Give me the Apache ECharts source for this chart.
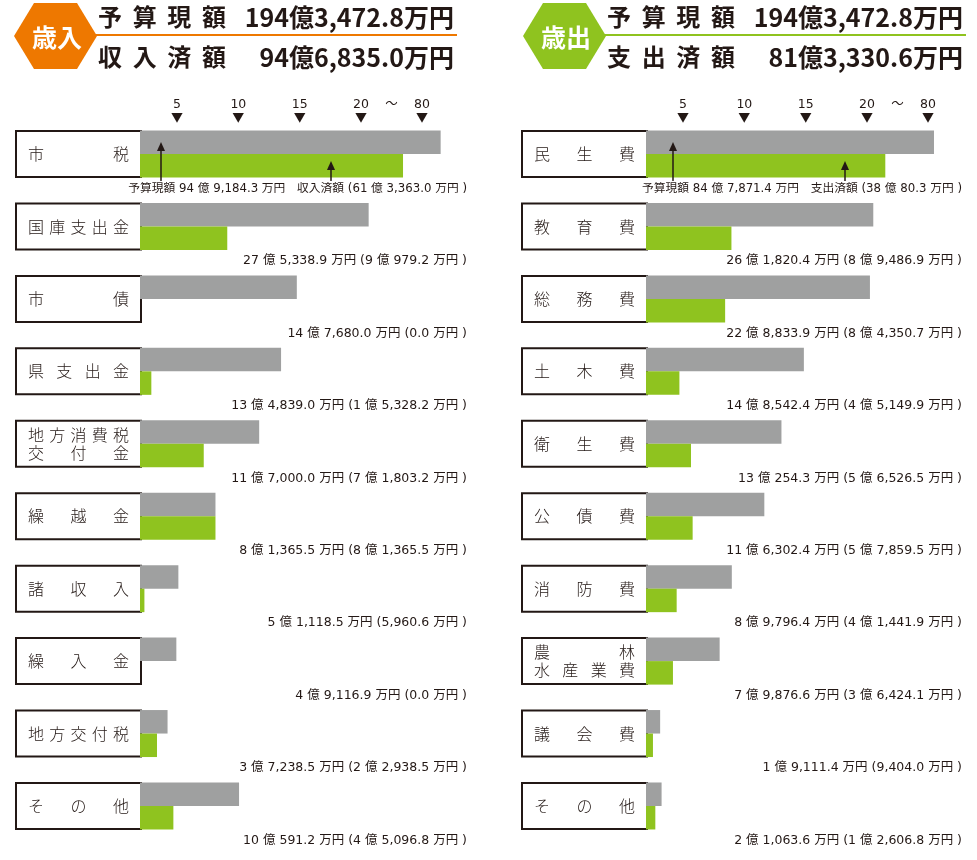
<!DOCTYPE html>
<html>
<head>
<meta charset="utf-8">
<script src="https://cdn.jsdelivr.net/npm/echarts@6/dist/echarts.min.js"></script>
<style>
html,body{margin:0;padding:0;background:#ffffff;}
#chart{width:977px;height:860px;}
</style>
</head>
<body>
<div id="chart"></div>
<script>
// ===================== DATA (values in 万円) =====================
const revenueCategories = ['市税', '国庫支出金', '市債', '県支出金', '地方消費税\n交付金', '繰越金', '諸収入', '繰入金', '地方交付税', 'その他'];
const revenueBudget = [949184.3, 275338.9, 147680.0, 134839.0, 117000.0, 81365.5, 51118.5, 49116.9, 37238.5, 100591.2];
const revenueActual = [613363.0, 90979.2, 0.0, 15328.2, 71803.2, 81365.5, 5960.6, 0.0, 22938.5, 45096.8];

const expenditureCategories = ['民生費', '教育費', '総務費', '土木費', '衛生費', '公債費', '消防費', '農林\n水産業費', '議会費', 'その他'];
const expenditureBudget = [847871.4, 261820.4, 228833.9, 148542.4, 130254.3, 116302.4, 89796.4, 79876.6, 19111.4, 21063.6];
const expenditureActual = [380080.3, 89486.9, 84350.7, 45149.9, 56526.5, 57859.5, 41441.9, 36424.1, 9404.0, 12606.8];

// axis ticks (億円) and break mark between 20 and 80
const tickValues = [5, 10, 15, 20, 80];
const tickLabels = ['5', '10', '15', '20', '80'];
const breakFrom = 20, breakTo = 80, breakMark = '～';

// ===================== SCALE (broken axis, 億円 -> display units) =====================
const SCALE_DOMAIN = [0, 5, 20, 80, 100];
const SCALE_RANGE = [0, 37, 221, 282, 307];
function toDisplay(oku) {
  for (let i = 1; i < SCALE_DOMAIN.length; i++) {
    if (oku <= SCALE_DOMAIN[i] || i === SCALE_DOMAIN.length - 1) {
      const d0 = SCALE_DOMAIN[i - 1], d1 = SCALE_DOMAIN[i];
      const r0 = SCALE_RANGE[i - 1], r1 = SCALE_RANGE[i];
      return r0 + (oku - d0) * (r1 - r0) / (d1 - d0);
    }
  }
  return 0;
}
const manToOku = v => v / 10000;

// ===================== STYLE =====================
const INK = '#231815';
const GRAY = '#9fa0a0';
const GREEN = '#8fc31f';
const ORANGE = '#ee7800';
const FONT = '"Noto Sans CJK JP", "Noto Sans", sans-serif';
const NUM_FONT = '"DejaVu Sans", "Noto Sans CJK JP", sans-serif';

// ===================== FORMAT =====================
function fmtMan(man, sep) {
  const oku = Math.floor((man + 1e-6) / 10000);
  const rest = Math.round((man - oku * 10000) * 10) / 10;
  const parts = rest.toFixed(1).split('.');
  const restStr = parts[0].replace(/\B(?=(\d{3})+(?!\d))/g, ',') + '.' + parts[1];
  return oku > 0 ? (oku + sep + '億' + sep + restStr + sep + '万円') : (restStr + sep + '万円');
}
const sum = arr => Math.round(arr.reduce((a, b) => a + b, 0) * 10) / 10;

// ===================== BOX LABEL (justified) =====================
const BOX_W = 101, BOX_FS = 16;
function buildBoxRich() {
  const rich = {};
  [1, 2].forEach(k => {
    const lh = k === 1 ? 36 : 18;
    const base = { fontSize: BOX_FS, lineHeight: lh, color: INK, fontFamily: FONT, fontWeight: 300 };
    rich['l' + k] = Object.assign({}, base, { align: 'left' });
    rich['r' + k] = Object.assign({}, base, { align: 'right' });
    for (let n = 3; n <= 6; n++) {
      rich['c' + k + '_' + n] = Object.assign({}, base, { align: 'center', width: (BOX_W - BOX_FS) / (n - 1) });
    }
  });
  return rich;
}
function justifyLine(text, k) {
  const ch = Array.from(text), n = ch.length;
  return ch.map((c, i) => i === 0 ? '{l' + k + '|' + c + '}' : (i === n - 1 ? '{r' + k + '|' + c + '}' : '{c' + k + '_' + n + '|' + c + '}')).join('');
}
function boxLabel(name) {
  const lines = name.split('\n');
  return lines.map(l => justifyLine(l, lines.length)).join('\n');
}

// ===================== LAYOUT =====================
const GRID_TOP = 117.8, GRID_H = 724.4, GRID_W = 307;
const panels = [
  { cats: revenueCategories, budget: revenueBudget, actual: revenueActual, left: 140, labelOffset: 20, actualName: '収入済額',
    badge: '歳入', color: ORANGE, hexX: 14, arrows: [21, 191] },
  { cats: expenditureCategories, budget: expenditureBudget, actual: expenditureActual, left: 646, labelOffset: 9, actualName: '支出済額',
    badge: '歳出', color: GREEN, hexX: 523, arrows: [27, 199] }
];

const tickDisplay = tickValues.map(toDisplay);
const breakDisplay = (toDisplay(breakFrom) + toDisplay(breakTo)) / 2;

const grids = [], xAxes = [], yAxes = [], series = [];
panels.forEach((p, idx) => {
  grids.push({ left: p.left, top: GRID_TOP, width: GRID_W, height: GRID_H, containLabel: false });
  xAxes.push({
    gridIndex: idx, type: 'value', position: 'top', min: 0, max: SCALE_RANGE[SCALE_RANGE.length - 1],
    axisLine: { show: false }, axisTick: { show: false }, splitLine: { show: false },
    axisLabel: {
      customValues: tickDisplay.concat([breakDisplay]),
      margin: -6,
      formatter: function (v) {
        if (Math.abs(v - breakDisplay) < 0.01) return '{n|' + breakMark + '}\n{t|\u3000}';
        const i = tickDisplay.findIndex(d => Math.abs(d - v) < 0.01);
        return '{n|' + tickLabels[i] + '}\n{t|▼}';
      },
      rich: {
        n: { fontSize: 12.5, lineHeight: 15, color: INK, fontFamily: NUM_FONT },
        t: { fontSize: 12, lineHeight: 12, color: INK, fontFamily: FONT }
      }
    }
  });
  yAxes.push({
    gridIndex: idx, type: 'category', data: p.cats, inverse: true, position: 'left',
    axisLine: { show: false }, axisTick: { show: false }, splitLine: { show: false },
    axisLabel: {
      interval: 0, margin: 0, width: BOX_W,
      padding: [4, 11, 4, 11],
      backgroundColor: '#ffffff', borderColor: INK, borderWidth: 2,
      formatter: v => boxLabel(v),
      rich: buildBoxRich()
    }
  });
  yAxes.push({
    gridIndex: idx, type: 'category', data: p.cats, inverse: true, position: 'right', offset: p.labelOffset,
    axisLine: { show: false }, axisTick: { show: false }, splitLine: { show: false },
    axisLabel: {
      interval: 0, inside: true, margin: 0, align: 'right',
      formatter: function (v, i) {
        if (i === 0) {
          const s = '予算現額 ' + fmtMan(p.budget[0], ' ') + '\u3000' + p.actualName + ' (' + fmtMan(p.actual[0], ' ') + ' )';
          return '{g|\u3000}\n{v1|' + s + '}';
        }
        return '{g|\u3000}\n{v|' + fmtMan(p.budget[i], ' ') + ' (' + fmtMan(p.actual[i], ' ') + ' )}';
      },
      rich: {
        g: { fontSize: 8, lineHeight: 69, color: 'rgba(0,0,0,0)', fontFamily: FONT },
        v: { fontSize: 12.5, lineHeight: 16, color: INK, fontFamily: NUM_FONT },
        v1: { fontSize: 11.75, lineHeight: 16, color: INK, fontFamily: NUM_FONT }
      }
    }
  });
  series.push({
    type: 'bar', name: '予算現額', xAxisIndex: idx, yAxisIndex: idx * 2,
    data: p.budget.map(v => toDisplay(manToOku(v))),
    barWidth: 23.5, barGap: '0%', itemStyle: { color: GRAY }, silent: true
  });
  series.push({
    type: 'bar', name: p.actualName, xAxisIndex: idx, yAxisIndex: idx * 2,
    data: p.actual.map(v => toDisplay(manToOku(v))),
    barWidth: 23.5, barGap: '0%', itemStyle: { color: GREEN }, silent: true
  });
});

const chart = echarts.init(document.getElementById('chart'));
chart.setOption({
  animation: false,
  backgroundColor: '#ffffff',
  textStyle: { fontFamily: FONT },
  grid: grids, xAxis: xAxes, yAxis: yAxes, series: series
});

// ===================== HEADER + ARROWS =====================
function headerRich(fs) {
  const base = { font: 'bold ' + fs + 'px ' + FONT, fill: INK };
  return {
    l: Object.assign({}, base, { align: 'left' }),
    r: Object.assign({}, base, { align: 'right' }),
    c: Object.assign({}, base, { align: 'center', width: (128 - fs) / 3 })
  };
}
function headerJustify(t) {
  const ch = Array.from(t);
  return ch.map((c, i) => i === 0 ? '{l|' + c + '}' : (i === ch.length - 1 ? '{r|' + c + '}' : '{c|' + c + '}')).join('');
}
const graphics = [];
panels.forEach((p, idx) => {
  const x0 = p.hexX;
  graphics.push({ type: 'polygon', z: 100, shape: { points: [[x0, 36], [x0 + 20, 3], [x0 + 63, 3], [x0 + 83, 36], [x0 + 63, 69], [x0 + 20, 69]] }, style: { fill: p.color } });
  graphics.push({ type: 'text', z: 101, x: x0 + 43, y: 37, style: { text: p.badge, font: 'bold 25px ' + FONT, fill: '#ffffff', align: 'center', verticalAlign: 'middle', textAlign: 'center', textVerticalAlign: 'middle' } });
  graphics.push({ type: 'line', z: 99, shape: { x1: x0 + 80, y1: 35, x2: x0 + 443, y2: 35 }, style: { stroke: p.color, lineWidth: 2 } });
  const rows = [['予算現額', sum(p.budget), 17], [p.actualName, sum(p.actual), 57]];
  rows.forEach(r => {
    graphics.push({ type: 'text', z: 100, x: x0 + 84, y: r[2], style: { text: headerJustify(r[0]), rich: headerRich(24), width: 128, align: 'left', verticalAlign: 'middle', textAlign: 'left', textVerticalAlign: 'middle', font: 'bold 24px ' + FONT, fill: INK } });
    graphics.push({ type: 'text', z: 100, x: x0 + 440, y: r[2], style: { text: fmtMan(r[1], ''), font: 'bold 25px ' + FONT, fill: INK, align: 'right', verticalAlign: 'middle', textAlign: 'right', textVerticalAlign: 'middle' } });
  });
  const origin = chart.convertToPixel({ xAxisIndex: idx, yAxisIndex: idx * 2 }, [0, p.cats[0]]);
  const cy = origin[1];
  const tips = [cy - 12, cy + 7];
  p.arrows.forEach((dx, k) => {
    const x = origin[0] + dx, yTop = tips[k], yBot = cy + 27;
    graphics.push({ type: 'line', z: 100, shape: { x1: x, y1: yBot, x2: x, y2: yTop + 6 }, style: { stroke: INK, lineWidth: 1.5 } });
    graphics.push({ type: 'polygon', z: 100, shape: { points: [[x, yTop], [x - 4, yTop + 9], [x + 4, yTop + 9]] }, style: { fill: INK } });
  });
});
chart.setOption({ graphic: graphics });
</script>
</body>
</html>
